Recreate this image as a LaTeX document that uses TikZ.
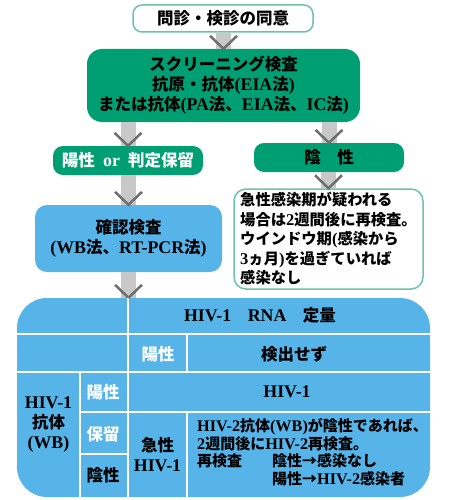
\documentclass[tikz,border=0pt]{standalone}
\usepackage{fontspec}
\setmainfont{Liberation Serif}[Scale=1.08]
\newfontfamily\cjk{Noto Sans CJK JP}
\usepackage{tikz}
\usetikzlibrary{arrows.meta}
\definecolor{ibgreen}{HTML}{009E73}
\definecolor{skyblue}{HTML}{56B4E9}
\definecolor{mintline}{HTML}{6CC3A6}
\definecolor{bargray}{HTML}{C8C8C8}
\definecolor{chevgray}{HTML}{6E6E6E}
\newcommand{\en}[1]{{\rmfamily #1}}
\newcommand{\jpfont}{\cjk\bfseries\fontsize{16.5}{20}\selectfont}

\begin{document}
\begin{tikzpicture}[x=1pt,y=-1pt,>=Stealth,
		every node/.style={font=\jpfont,inner sep=0pt,align=center},
		greenbox/.style={fill=ibgreen,rounded corners=10pt},
		bluebox/.style={fill=skyblue,rounded corners=12pt},
		whitebox/.style={draw=mintline,line width=1.5pt,fill=white,rounded corners=9pt},
		bar/.style={draw=bargray,line width=15pt},
		chevron/.style={draw=chevgray,line width=2.5pt},
		cell/.style={draw=white,line width=1.5pt}]
		\useasboundingbox (0,0) rectangle (450,500);
		\node[whitebox,minimum width=180pt,minimum height=27pt] (top) at (223,18.5) {問診・検診の同意};
		\node[greenbox,rounded corners=15pt,minimum width=273pt,minimum height=73pt] (scr) at (223.5,85.5) {スクリーニング検査\\抗原・抗体\en{(EIA}法\en{)}\\または抗体\en{(PA}法、\en{EIA}法、\en{IC}法\en{)}};
		\node[greenbox,text=white,minimum width=150pt,minimum height=29pt] (ok) at (128,160.5) {陽性\enspace\en{or}\enspace 判定保留};
		\node[greenbox,minimum width=150pt,minimum height=29pt] (neg) at (329,157.5) {陰　性};
		\node[bluebox,minimum width=187pt,minimum height=67pt] (conf) at (128.5,238.5) {確認検査\\\en{(WB}法、\en{RT-PCR}法\en{)}};
		\node[whitebox,rounded corners=12pt,minimum width=189pt,minimum height=100pt,align=left,font=\cjk\bfseries\fontsize{15.3}{19.5}\selectfont] (note) at (328.5,239) {急性感染期が疑われる\\場合は\en{2}週間後に再検査。\\ウインドウ期\en{(}感染から\\\en{3}ヵ月\en{)}を過ぎていれば\\感染なし};
		\node[fill=skyblue,rounded corners=30pt,minimum width=413pt,minimum height=199pt] (tbl) at (223.5,397.5) {};
		\foreach \a/\b in {top/scr,scr/ok,scr/neg,ok/conf,neg/note}{
			\draw[bar] (\b.north |- \a.south) -- (\b.north);
			\draw[chevron] (\b.north) ++(-13.5,-13) -- ++(13.5,13) -- ++(13.5,-13);
		}
		\draw[bar] (conf.south) -- (conf.south |- tbl.north);
		\draw[chevron] (conf.south |- tbl.north) ++(-13.5,-13) -- ++(13.5,13) -- ++(13.5,-13);
		\draw[cell] (128,298) -- (128,497);
		\draw[cell] (17,334) -- (430,334);
		\draw[cell] (17,372) -- (430,372);
		\draw[cell] (80,372) -- (80,497);
		\draw[cell] (80,412) -- (430,412);
		\draw[cell] (80,454) -- (128,454);
		\draw[cell] (187,334) -- (187,372);
		\draw[cell] (187,412) -- (187,497);
		\node (rna) at (260,315) {\en{HIV-1}　\en{RNA}　定量};
		\node[text=white] (rnapos) at (158,354) {陽性};
		\node (notfound) at (294,354) {検出せず};
		\node (ab) at (48.5,425) {\en{HIV-1}\\抗体\\\en{(WB)}};
		\node[text=white] (abpos) at (103,392) {陽性};
		\node[text=white] (abhold) at (103,434) {保留};
		\node (abneg) at (103,475) {陰性};
		\node (hivone) at (287,392) {\en{HIV-1}};
		\node (acute) at (157.5,455) {急性\\\en{HIV-1}};
		\node[anchor=west,align=left,font=\cjk\bfseries\fontsize{15}{17.5}\selectfont] (retest) at (197,452) {\en{HIV-2}抗体\en{(WB)}が陰性であれば、\\\en{2}週間後に\en{HIV-2}再検査。\\再検査　　陰性→感染なし\\\phantom{再検査　　}陽性→\en{HIV-2}感染者};
	\end{tikzpicture}
\end{document}
